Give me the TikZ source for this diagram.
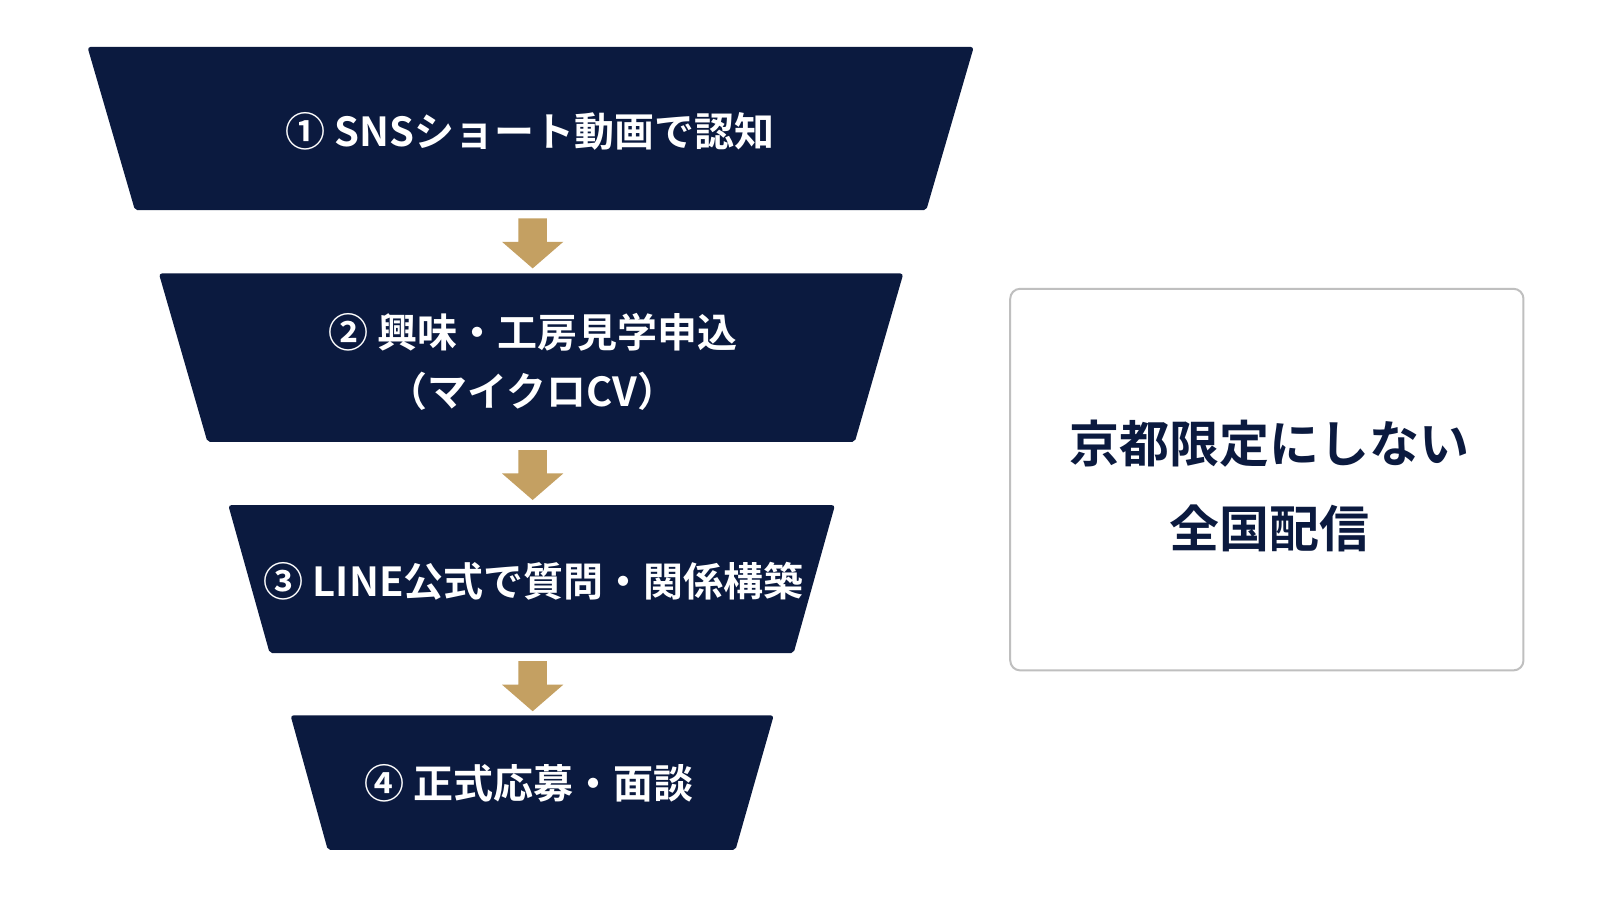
\documentclass[tikz,border=0pt]{standalone}
\usepackage{fontspec}
\setmainfont{Noto Sans CJK JP}[BoldFont={Noto Sans CJK JP Bold}]
\definecolor{navy}{HTML}{0B1A3F}
\definecolor{gold}{HTML}{C4A062}
\begin{document}
\begin{tikzpicture}[x=1.0204pt,y=-1.0204pt,
  trap/.style={fill=navy,draw=navy,line width=2pt,rounded corners=2pt},
  lbl/.style={text=white,font=\bfseries\fontsize{40}{59}\selectfont,align=center},
  garrow/.style={fill=gold},
  side/.style={text=navy,font=\bfseries\fontsize{50}{85}\selectfont,align=center}]
\useasboundingbox (0,0) rectangle (1568,882);
\fill[white] (0,0) rectangle (1568,882);
\draw[trap] (87,47) -- (953,47) -- (907,205) -- (133,205) -- cycle;
\draw[trap] (157,269) -- (884,269) -- (837,432) -- (204,432) -- cycle;
\draw[trap] (225,496) -- (817,496) -- (777,639) -- (265,639) -- cycle;
\draw[trap] (286,702) -- (757,702) -- (720,832) -- (322,832) -- cycle;
\node[lbl] (t1) at (519,129) {① SNSショート動画で認知};
\node[lbl] (t2) at (522,355) {② 興味・工房見学申込\\（マイクロCV）};
\node[lbl] (t3) at (523,570) {③ LINE公式で質問・関係構築};
\node[lbl] (t4) at (518,768) {④ 正式応募・面談};
\foreach \y in {214,441,648}{
  \fill[garrow] (508,\y) -- (536,\y) -- (536,\y+23) -- (552,\y+23) -- (522,\y+49) -- (492,\y+23) -- (508,\y+23) -- cycle;}
\draw[draw=black!25,line width=2pt,rounded corners=10pt,fill=white] (990,283) rectangle (1493,657);
\node[side] (s) at (1244,476) {京都限定にしない\\全国配信};
\end{tikzpicture}
\end{document}
